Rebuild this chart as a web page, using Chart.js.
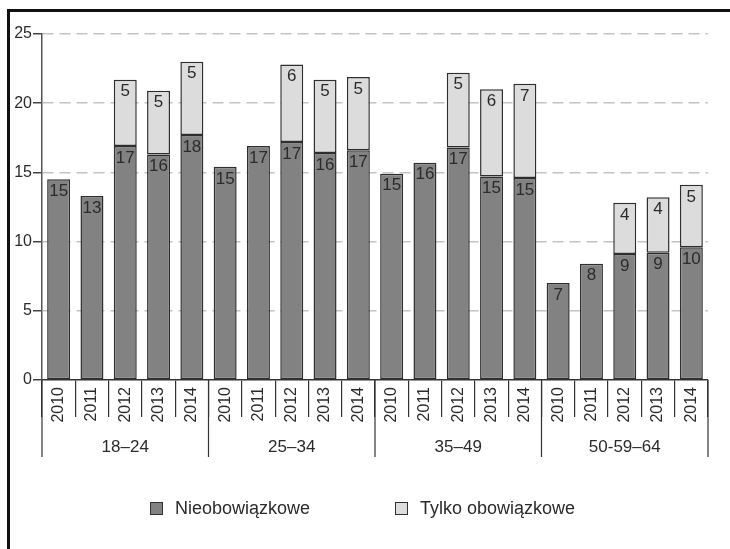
<!DOCTYPE html>
<html lang="pl">
<head>
<meta charset="utf-8">
<title>Nieobowiązkowe i tylko obowiązkowe</title>
<script src="https://cdn.jsdelivr.net/npm/chart.js@4/dist/chart.umd.min.js"></script>
<style>
    html, body { margin: 0; padding: 0; background: #fff; overflow: hidden; }
    body { width: 730px; height: 549px; position: relative; font-family: "Liberation Sans", Arial, sans-serif; }
    .frame { position: absolute; left: 7px; top: 9px; width: 760px; height: 580px; border-left: 3px solid #111; border-top: 3px solid #111; }
    #chart-box { position: absolute; left: 0; top: 0; width: 730px; height: 549px; }
    .legend-item { position: absolute; top: 498px; display: flex; align-items: center; font-size: 18px; color: #2b2b2b; line-height: 20px; }
    .legend-item i { display: inline-block; width: 11px; height: 11px; border: 1.5px solid #333; margin-right: 12px; }
</style>
</head>
<body>
<div class="frame"></div>
<div id="chart-box"><canvas id="chart" width="730" height="549"></canvas></div>
<div class="legend-item" style="left:150px"><i style="background:#828282"></i>Nieobowiązkowe</div>
<div class="legend-item" style="left:395px"><i style="background:#dcdcdc"></i>Tylko obowiązkowe</div>
<script>
const groups = ['18–24', '25–34', '35–49', '50-59–64'];
const years = ['2010', '2011', '2012', '2013', '2014'];

// values, 5 years per age group
const nieobowiazkowe = [
    14.5, 13.3, 16.9, 16.3, 17.7,
    15.4, 16.9, 17.2, 16.4, 16.6,
    14.9, 15.7, 16.8, 14.7, 14.6,
    7.0, 8.4, 9.1, 9.2, 9.6
];
const tylkoObowiazkowe = [
    null, null, 4.8, 4.6, 5.3,
    null, null, 5.6, 5.3, 5.3,
    null, null, 5.4, 6.3, 6.8,
    null, null, 3.7, 4.0, 4.5
];
const yTicks = [0, 5, 10, 15, 20, 25];

const labels = groups.flatMap(() => years);

Chart.defaults.font.family = '"Liberation Sans", Arial, sans-serif';
Chart.defaults.color = '#2b2b2b';

// numbers written at the top of each segment
const valueLabels = {
    id: 'valueLabels',
    afterDatasetsDraw(chart) {
        const ctx = chart.ctx;
        ctx.save();
        ctx.font = '17px "Liberation Sans", Arial, sans-serif';
        ctx.fillStyle = '#2b2b2b';
        ctx.textAlign = 'center';
        ctx.textBaseline = 'middle';
        chart.data.datasets.forEach((ds, i) => {
            chart.getDatasetMeta(i).data.forEach((bar, j) => {
                const v = ds.data[j];
                if (v == null) return;
                const top = Math.min(bar.y, bar.base);
                ctx.fillText(String(Math.round(v)), bar.x, top + 12);
            });
        });
        ctx.restore();
    }
};

// second level of the x axis: long separators and age group names
const groupAxis = {
    id: 'groupAxis',
    afterDraw(chart) {
        const x = chart.scales.x;
        const ctx = chart.ctx;
        const n = years.length;
        const half = (x.getPixelForValue(1) - x.getPixelForValue(0)) / 2;
        ctx.save();
        ctx.strokeStyle = '#333';
        ctx.lineWidth = 1.2;
        ctx.fillStyle = '#2b2b2b';
        ctx.font = '17px "Liberation Sans", Arial, sans-serif';
        ctx.textAlign = 'center';
        ctx.textBaseline = 'middle';
        groups.forEach((g, gi) => {
            const left = x.getPixelForValue(gi * n) - half;
            const right = x.getPixelForValue(gi * n + n - 1) + half;
            ctx.beginPath();
            ctx.moveTo(left, x.top);
            ctx.lineTo(left, x.top + 77);
            if (gi === groups.length - 1) {
                ctx.moveTo(right, x.top);
                ctx.lineTo(right, x.top + 77);
            }
            ctx.stroke();
            ctx.fillText(g, (left + right) / 2, x.top + 67);
        });
        ctx.restore();
    }
};

const ctx = document.getElementById('chart').getContext('2d');
new Chart(ctx, {
    type: 'bar',
    data: {
        labels: labels,
        datasets: [
            {
                label: 'Nieobowiązkowe',
                data: nieobowiazkowe,
                backgroundColor: '#828282',
                borderColor: '#2e2e2e',
                borderWidth: 1.5,
                borderSkipped: false,
                barPercentage: 0.69,
                categoryPercentage: 1
            },
            {
                label: 'Tylko obowiązkowe',
                data: tylkoObowiazkowe,
                backgroundColor: '#dcdcdc',
                borderColor: '#2e2e2e',
                borderWidth: 1.5,
                borderSkipped: false,
                barPercentage: 0.69,
                categoryPercentage: 1
            }
        ]
    },
    options: {
        responsive: false,
        animation: false,
        layout: { padding: { left: 0, top: 34, right: 22, bottom: 89 } },
        plugins: {
            legend: { display: false },
            tooltip: { enabled: false }
        },
        scales: {
            x: {
                stacked: true,
                afterFit: s => { s.height = 80; },
                ticks: {
                    autoSkip: false,
                    minRotation: 90,
                    maxRotation: 90,
                    padding: -30,
                    color: '#2b2b2b',
                    font: { size: 16 }
                },
                grid: {
                    offset: true,
                    drawOnChartArea: false,
                    tickLength: 37,
                    color: '#333',
                    lineWidth: 1.2
                },
                border: { display: true, color: '#333', width: 1.5 }
            },
            y: {
                stacked: true,
                min: 0,
                max: 25,
                afterFit: s => { s.width = 42; },
                afterBuildTicks: s => { s.ticks = yTicks.map(v => ({ value: v })); },
                ticks: {
                    padding: 1,
                    color: '#2b2b2b',
                    font: { size: 16 }
                },
                grid: {
                    color: c => (c.tick && c.tick.value === 0) ? 'rgba(0,0,0,0)' : '#c4c4c4',
                    lineWidth: 1.5,
                    tickColor: '#444',
                    tickWidth: 1.5,
                    tickLength: 9
                },
                border: { display: true, color: '#555', width: 1.5, dash: [11, 6] }
            }
        }
    },
    plugins: [valueLabels, groupAxis]
});
</script>
</body>
</html>
